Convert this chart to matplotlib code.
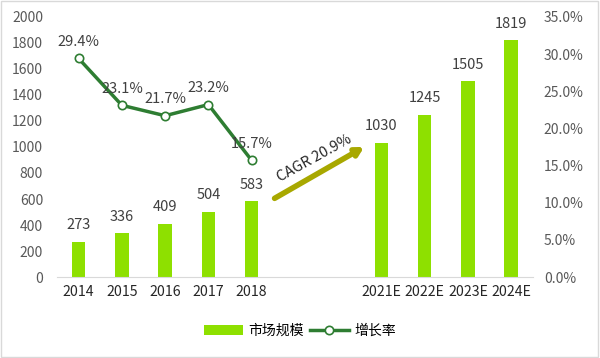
import numpy as np
import matplotlib
matplotlib.use("Agg")
import matplotlib.pyplot as plt
from matplotlib.patches import Rectangle

plt.rcParams['font.family'] = ['Noto Sans CJK SC', 'DejaVu Sans']

# data
years = ["2014", "2015", "2016", "2017", "2018", "", "", "2021E", "2022E", "2023E", "2024E"]
market = [273, 336, 409, 504, 583, None, None, 1030, 1245, 1505, 1819]
growth_years = ["2014", "2015", "2016", "2017", "2018"]
growth = [29.4, 23.1, 21.7, 23.2, 15.7]
left_ticks = [0, 200, 400, 600, 800, 1000, 1200, 1400, 1600, 1800, 2000]
right_ticks = [0, 5, 10, 15, 20, 25, 30, 35]
cagr_text = "CAGR 20.9%"

bar_color = "#8EE000"
line_color = "#2E7D32"
tick_color = "#595959"
label_color = "#404040"

fig = plt.figure(figsize=(6, 3.58), dpi=100)
ax = fig.add_axes([0.095, 0.226, 0.793, 0.727])

x = np.arange(len(years))
bx = [i for i, v in zip(x, market) if v is not None]
bv = [v for v in market if v is not None]
ax.bar(bx, bv, width=0.31, color=bar_color, label="市场规模", zorder=2)
for xi, v in zip(bx, bv):
    ax.annotate(str(v), (xi, v), xytext=(0, 7), textcoords="offset points",
                ha="center", va="bottom", fontsize=10.5, color=label_color)

ax.set_xlim(-0.5, len(years) - 0.5)
ax.set_ylim(0, 2000)
ax.set_yticks(left_ticks)
ax.set_xticks(x)
ax.set_xticklabels(years, fontsize=10.2, color="#262626")
ax.tick_params(axis="y", labelsize=10, colors=tick_color, length=0, pad=10)
ax.tick_params(axis="x", length=0, pad=6)
for s in ["top", "right", "left"]:
    ax.spines[s].set_visible(False)
ax.spines["bottom"].set_color("#D9D9D9")

ax2 = ax.twinx()
ax2.set_ylim(0, 35)
ax2.set_yticks(right_ticks)
ax2.set_yticklabels([f"{t:.1f}%" for t in right_ticks])
ax2.tick_params(axis="y", labelsize=10, colors=tick_color, length=0, pad=8)
for s in ax2.spines.values():
    s.set_visible(False)
gx = [years.index(y) for y in growth_years]
ax2.plot(gx, growth, color=line_color, lw=2.5, marker="o", ms=6,
         mfc="white", mec=line_color, mew=1.2, label="增长率", zorder=3)
for xi, g in zip(gx, growth):
    ax2.annotate(f"{g}%", (xi, g), xytext=(0, 7), textcoords="offset points",
                 ha="center", va="bottom", fontsize=10.5, color=label_color)

# CAGR arrow
ax.annotate("", xy=(6.6, 1000), xytext=(4.53, 605),
            arrowprops=dict(arrowstyle="-|>,head_length=0.45,head_width=0.25",
                            color="#A8A800", lw=4, shrinkA=0, shrinkB=0))
ax.text(5.45, 910, cagr_text, rotation=29, ha="center", va="center",
        fontsize=10.5, color="#262626", rotation_mode="anchor")

h1, l1 = ax.get_legend_handles_labels()
h2, l2 = ax2.get_legend_handles_labels()
fig.legend(h1 + h2, l1 + l2, loc="center", bbox_to_anchor=(0.5, 0.075),
           ncol=2, frameon=False, fontsize=10, handlelength=2.8,
           columnspacing=0.4, handletextpad=0.4)

fig.patches.append(Rectangle((0.002, 0.003), 0.995, 0.994, transform=fig.transFigure,
                             fill=False, edgecolor="#D9D9D9", lw=1))

fig.savefig("out.png", dpi=100)
